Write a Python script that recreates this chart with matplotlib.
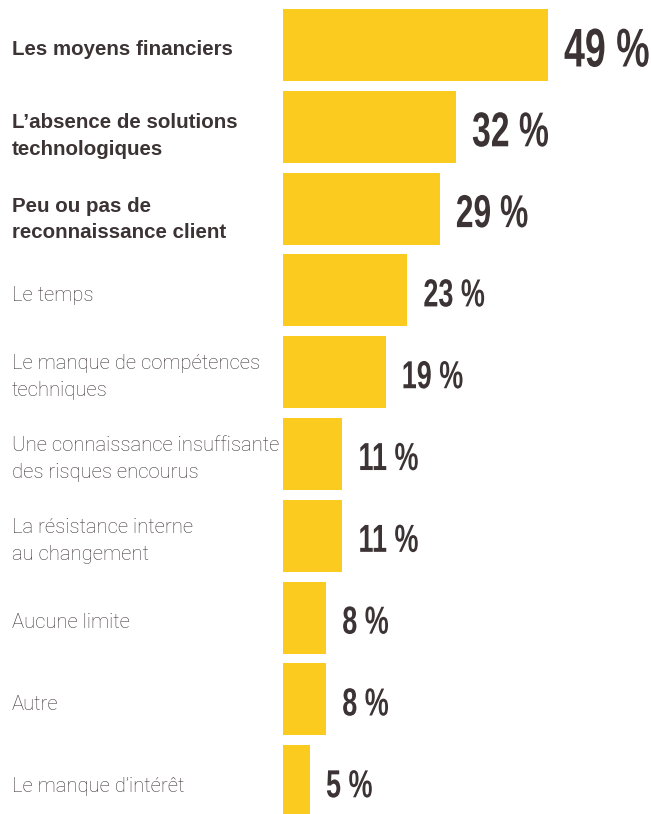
import matplotlib
matplotlib.use('Agg')
import matplotlib.pyplot as plt
import matplotlib.transforms as mtransforms
import matplotlib.patheffects as patheffects

labels = ["Les moyens financiers",
          "L\u2019absence de solutions\ntechnologiques",
          "Peu ou pas de\nreconnaissance client",
          "Le temps",
          "Le manque de compétences\ntechniques",
          "Une connaissance insuffisante\ndes risques encourus",
          "La résistance interne\nau changement",
          "Aucune limite",
          "Autre",
          "Le manque d\u2019intérêt"]
values = [49, 32, 29, 23, 19, 11, 11, 8, 8, 5]
bold_rows = [0, 1, 2]

# layout only: cap height of the percentage labels (px) and label nudges (px, down)
value_caps = [39, 35, 33, 28, 28, 28, 28, 28, 28, 28]
label_nudge = [5, 9, 11, 5, 5, 5, 5, 5, 5, 5]

bar_color = '#FBCB1F'
text_dark = '#3c3335'
text_light = '#3e3537'


class Stretch(patheffects.AbstractPathEffect):
    """draw text glyphs scaled around their baseline origin (condensed look)"""

    def __init__(self, sx=1.0, sy=1.0):
        super().__init__()
        self.sx = sx
        self.sy = sy

    def draw_path(self, renderer, gc, tpath, affine, rgbFace=None):
        m = affine.get_matrix()
        x0, y0 = m[0, 2], m[1, 2]
        t = affine + mtransforms.Affine2D().translate(-x0, -y0).scale(self.sx, self.sy).translate(x0, y0)
        renderer.draw_path(gc, tpath, t, rgbFace)


W, H = 651, 814
fig = plt.figure(figsize=(W / 100, H / 100), dpi=100)
fig.patch.set_facecolor('white')

# bars start at x=283px, 49 % ends at x=548px
ax = fig.add_axes([283 / W, 0, 1 - 283 / W, 1])
ax.set_xlim(0, 49 * (W - 283) / (548 - 283))
ax.set_ylim(9.40, -0.55)
ax.axis('off')

ypos = list(range(len(values)))
ax.barh(ypos, values, height=0.88, color=bar_color, edgecolor='none')

trans = mtransforms.blended_transform_factory(fig.transFigure, ax.transData)
sy = 1.45

for i, (lab, v) in enumerate(zip(labels, values)):
    nudge = mtransforms.ScaledTranslation(0, -label_nudge[i] / 100, fig.dpi_scale_trans)
    if i in bold_rows:
        ax.text(12 / W, i, lab, transform=trans + nudge, ha='left', va='center',
                fontsize=14.8, fontweight='bold', color=text_dark,
                family=['Liberation Sans', 'DejaVu Sans'], linespacing=1.5)
    else:
        ax.text(12 / W, i, lab, transform=trans + nudge, ha='left', va='center',
                fontsize=14.6, fontweight='light', color=text_light,
                family=['Roboto', 'DejaVu Sans'], linespacing=1.5)
    cap = value_caps[i]
    fs = cap / (0.716 * sy) * 72 / 100
    off = mtransforms.ScaledTranslation(16 / 100, (-cap / 2 - 2) / 100, fig.dpi_scale_trans)
    ax.text(v, i, f"{v} %", transform=ax.transData + off, ha='left',
            va='baseline', fontsize=fs, fontweight='bold', color=text_dark,
            family=['Liberation Sans', 'DejaVu Sans'], clip_on=False,
            path_effects=[Stretch(1.0, sy)])

fig.savefig('out.png', dpi=100)
